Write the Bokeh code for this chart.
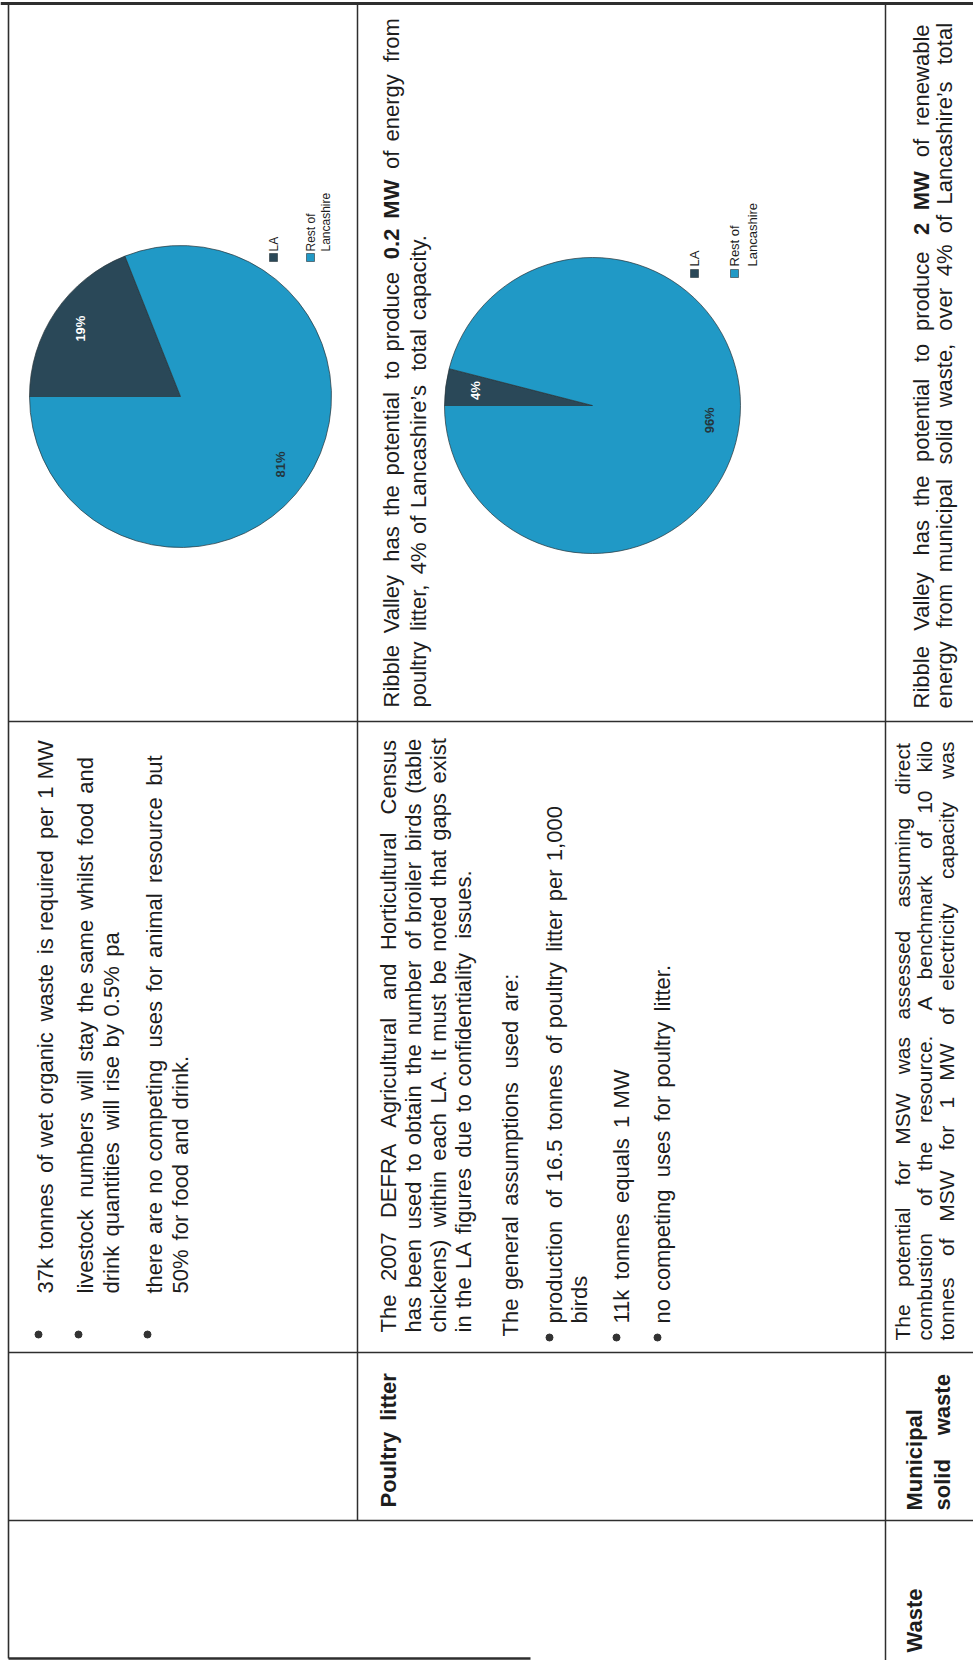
import math
from bokeh.plotting import figure
from bokeh.models import Range1d, ColumnDataSource
from bokeh.core.properties import value, field
from bokeh.embed import file_html
from bokeh.resources import INLINE

# ---------------- data (read from the scanned page) ----------------
pie_categories = ["LA", "Rest of Lancashire"]
wet_organic_share = [19, 81]   # % of Lancashire capacity, wet organic waste row
poultry_share = [4, 96]        # % of Lancashire capacity, poultry litter row

category_label = ["Waste"]
poultry_label = ["Poultry litter"]
msw_label = ["Municipal", "solid waste"]

wet_organic_bullets = [
    ["37k tonnes of wet organic waste is required per 1 MW"],
    ["livestock numbers will stay the same whilst food and",
     "drink quantities will rise by 0.5% pa"],
    ["there are no competing uses for animal resource but",
     "50% for food and drink."],
]
poultry_intro = [
    "The 2007 DEFRA Agricultural and Horticultural Census",
    "has been used to obtain the number of broiler birds (table",
    "chickens) within each LA. It must be noted that gaps exist",
    "in the LA figures due to confidentiality issues.",
]
poultry_head = ["The general assumptions used are:"]
poultry_bullets = [
    ["production of 16.5 tonnes of poultry litter per 1,000", "birds"],
    ["11k tonnes equals 1 MW"],
    ["no competing uses for poultry litter."],
]
msw_intro = [
    "The potential for MSW was assessed assuming direct",
    "combustion of the resource. A benchmark of 10 kilo",
    "tonnes of MSW for 1 MW of electricity capacity was",
]
poultry_result = [
    "Ribble Valley has the potential to produce **0.2** **MW** of energy from",
    "poultry litter, 4% of Lancashire\u2019s total capacity.",
]
msw_result = [
    "Ribble Valley has the potential to produce **2** **MW** of renewable",
    "energy from municipal solid waste, over 4% of Lancashire\u2019s total",
]

# ---------------- styling / layout ----------------
W, H = 973, 1660
FONT = "Liberation Sans"
TEXT_COLOR = "#1d1d1d"
LINE_COLOR = "#2e2e2e"
LA_COLOR = "#2a4858"
REST_COLOR = "#2099c6"
METRIC = 23.3          # run length of the scanned text (page is stretched)

def Y(y):
    return H - y

# Arial / Liberation Sans advance widths (1/1000 em)
REG = {' ': 278, '%': 889, "'": 191, '\u2019': 222, '(': 333, ')': 333, ',': 278, '-': 333,
       '.': 278, ':': 278, '0': 556, '1': 556, '2': 556, '3': 556, '4': 556, '5': 556,
       '6': 556, '7': 556, '8': 556, '9': 556,
       'A': 667, 'B': 667, 'C': 722, 'D': 722, 'E': 667, 'F': 611, 'G': 778, 'H': 722,
       'I': 278, 'J': 500, 'K': 667, 'L': 556, 'M': 833, 'N': 722, 'O': 778, 'P': 667,
       'Q': 778, 'R': 722, 'S': 667, 'T': 611, 'U': 722, 'V': 667, 'W': 944, 'X': 667,
       'Y': 667, 'Z': 611,
       'a': 556, 'b': 556, 'c': 500, 'd': 556, 'e': 556, 'f': 278, 'g': 556, 'h': 556,
       'i': 222, 'j': 222, 'k': 500, 'l': 222, 'm': 833, 'n': 556, 'o': 556, 'p': 556,
       'q': 556, 'r': 333, 's': 500, 't': 278, 'u': 556, 'v': 500, 'w': 722, 'x': 500,
       'y': 500, 'z': 500}
BOLD = dict(REG)
BOLD.update({'A': 722, 'B': 722, 'J': 556, 'K': 722, 'L': 611,
             'a': 556, 'b': 611, 'c': 556, 'd': 611, 'e': 556, 'f': 333, 'g': 611, 'h': 611,
             'i': 278, 'j': 278, 'k': 556, 'l': 278, 'm': 889, 'n': 611, 'o': 611, 'p': 611,
             'q': 611, 'r': 389, 's': 556, 't': 333, 'u': 611, 'v': 556, 'w': 778, 'x': 556,
             'y': 556, 'z': 500})

def tw(s, bold, size):
    t = BOLD if bold else REG
    return sum(t.get(c, 556) for c in s) * size / 1000.0

reg = dict(x=[], y=[], text=[], fs=[])
bld = dict(x=[], y=[], text=[], fs=[])

def put_line(line, xb, ys, end=None, all_bold=False, px=22):
    toks = []
    for w in line.split(" "):
        if w.startswith("**") and w.endswith("**"):
            toks.append((w[2:-2], True))
        else:
            toks.append((w, all_bold))
    widths = [tw(t, b, METRIC) for t, b in toks]
    gap = 278 * METRIC / 1000.0
    if end is not None and len(toks) > 1:
        gap = ((ys - end) - sum(widths)) / (len(toks) - 1)
    pos = ys
    for (t, b), w in zip(toks, widths):
        d = bld if b else reg
        d["x"].append(xb)
        d["y"].append(Y(pos))
        d["text"].append(t)
        d["fs"].append("%dpx" % px)
        pos -= w + gap

p = figure(width=W, height=H, x_range=Range1d(0, W), y_range=Range1d(0, H),
           x_axis_type=None, y_axis_type=None, output_backend="svg",
           toolbar_location=None, min_border=0, outline_line_color=None,
           background_fill_color="white", border_fill_color="white")
p.grid.visible = False

# ---------------- table rules ----------------
seg = dict(
    x0=[8, 357, 885, 0, 8, 8, 8, 8],
    y0=[Y(3), Y(3), Y(3), Y(3), Y(721), Y(1352), Y(1520), Y(1658)],
    x1=[8, 357, 885, 973, 973, 973, 973, 530],
    y1=[Y(1658), Y(1520), Y(1660), Y(3), Y(721), Y(1352), Y(1520), Y(1658)],
    w=[1.6, 1.5, 1.5, 3.0, 1.6, 1.6, 1.6, 2.5],
)
p.segment(x0="x0", y0="y0", x1="x1", y1="y1", line_width="w",
          line_color=LINE_COLOR, source=ColumnDataSource(seg))

# ---------------- pies ----------------
def draw_pie(cx, cy, r, shares, legend_sq, legend_y, legend_text_y, legend_pitch, legend_px):
    total = float(sum(shares))
    start = math.pi
    starts, ends, mids = [], [], []
    for s in shares:
        a = s / total * 2 * math.pi
        starts.append(start)
        ends.append(start - a)
        mids.append(start - a / 2)
        start -= a
    src = ColumnDataSource(dict(x=[cx] * len(shares), y=[Y(cy)] * len(shares),
                                s=starts, e=ends, c=[LA_COLOR, REST_COLOR]))
    p.wedge(x="x", y="y", radius=r, start_angle="s", end_angle="e", direction="clock",
            fill_color="c", line_color="#26343a", line_width=0.7, source=src)
    lab = ColumnDataSource(dict(
        x=[cx + 0.8 * r * math.cos(m) for m in mids],
        y=[Y(cy) + 0.8 * r * math.sin(m) for m in mids],
        t=["%d%%" % s for s in shares],
        c=["white", "#24363d"]))
    p.text(x="x", y="y", text="t", text_color="c", source=lab, angle=math.pi / 2,
           text_font=value(FONT), text_font_size="13px", text_font_style="bold",
           text_align="center", text_baseline="middle")
    # legend
    p.rect(x=legend_sq, y=[Y(legend_y)] * len(legend_sq), width=8, height=8,
           fill_color=[LA_COLOR, REST_COLOR], line_color="#26343a", line_width=0.6)
    lx, ly, lt = [], [], []
    for sx, name in zip(legend_sq, pie_categories):
        parts = name.rsplit(" ", 1) if len(name) > 10 else [name]
        for j, part in enumerate(parts):
            lx.append(sx + j * legend_pitch)
            ly.append(Y(legend_text_y))
            lt.append(part)
    p.text(x=lx, y=ly, text=lt, angle=math.pi / 2, text_color=TEXT_COLOR,
           text_font=value(FONT), text_font_size=legend_px,
           text_align="left", text_baseline="middle")

draw_pie(180, 396, 151, wet_organic_share, [273, 310], 257, 251, 15, "12px")
draw_pie(592, 405, 148, poultry_share, [694, 734], 273, 266, 18, "13px")

# ---------------- texts ----------------
# row 1: wet organic waste bullets
bul_x, bul_y = [], []
baselines_a = [[45], [85, 111], [154, 180]]
for lines, bls in zip(wet_organic_bullets, baselines_a):
    for ln, xb in zip(lines, bls):
        put_line(ln, xb, 1293)
    bul_x.append(bls[0] - 7)
    bul_y.append(Y(1334))

# row 2: poultry litter
for ln, xb, j in zip(poultry_intro, [388, 413, 438, 463], range(4)):
    put_line(ln, xb, 1332, end=735 if j < 3 else None)
put_line(poultry_head[0], 510, 1336)
baselines_b = [[554, 579], [621], [662]]
for lines, bls in zip(poultry_bullets, baselines_b):
    for ln, xb in zip(lines, bls):
        put_line(ln, xb, 1323)
    bul_x.append(bls[0] - 5)
    bul_y.append(Y(1337))

# row 3: municipal solid waste (page edge: keep the last line inside)
for ln, xb in zip(msw_intro, [902, 924, 946]):
    put_line(ln, xb, 1340, end=737, px=21)

# results text
put_line(poultry_result[0], 391, 707, end=15)
put_line(poultry_result[1], 418, 707)
put_line(msw_result[0], 921, 708, end=18)
put_line(msw_result[1], 944, 708, end=20)

# first columns (bold)
put_line(poultry_label[0], 388, 1507, all_bold=True)
put_line(msw_label[0], 914, 1510, all_bold=True)
put_line(msw_label[1], 942, 1510, end=1370, all_bold=True)
put_line(category_label[0], 914, 1652, all_bold=True)

p.text(x="x", y="y", text="text", source=ColumnDataSource(reg), angle=math.pi / 2,
       text_font=value(FONT), text_font_size=field("fs"), text_color=TEXT_COLOR,
       text_align="left", text_baseline="alphabetic")
p.text(x="x", y="y", text="text", source=ColumnDataSource(bld), angle=math.pi / 2,
       text_font=value(FONT), text_font_size=field("fs"), text_font_style="bold",
       text_color=TEXT_COLOR, text_align="left", text_baseline="alphabetic")

p.scatter(x=bul_x, y=bul_y, size=7, marker="circle", fill_color="#333333",
          line_color="#333333")

open("out.html", "w").write(file_html(p, INLINE))
